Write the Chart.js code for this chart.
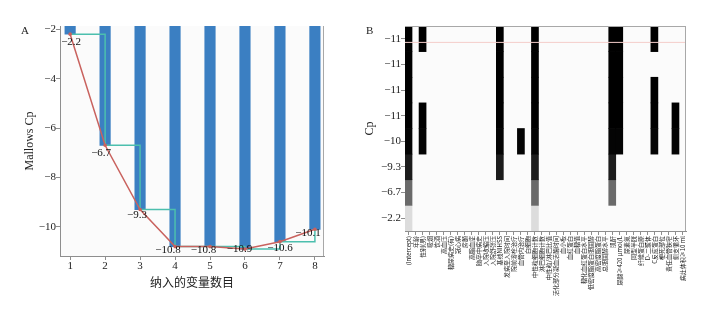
<!DOCTYPE html>
<html>
<head>
<meta charset="utf-8">
<script src="https://cdn.jsdelivr.net/npm/chart.js@4.4.1/dist/chart.umd.min.js"></script>
<style>
  html, body { margin: 0; padding: 0; background: #fff; }
  #wrap { position: relative; width: 719px; height: 313px; }
  #a { position: absolute; left: 0; top: 0; }
  #b { position: absolute; left: 345px; top: 0; }
  .tag { position: absolute; top: 24px; font: 11px 'Liberation Serif', serif; color: #222; }
</style>
</head>
<body>
<div id="wrap">
  <canvas id="a" width="345" height="313"></canvas>
  <canvas id="b" width="374" height="313"></canvas>
  <div class="tag" style="left:21px">A</div>
  <div class="tag" style="left:366px">B</div>
</div>
<script>
// panel A: best Cp for each model size
const nVars = [1, 2, 3, 4, 5, 6, 7, 8]
const cp = [-2.2, -6.7, -9.3, -10.8, -10.8, -10.9, -10.6, -10.1]
const yTicksA = [-10, -8, -6, -4, -2]

// panel B: candidate variables and the variables kept in each row (top row = lowest Cp)
const varNames = [
  '(Intercept)', '年龄', '性别(男)', '吸烟', '饮酒', '高血压', '糖尿病史(有)', '冠心病',
  '房颤', '高脂血症', '脑卒中病史', '入院收缩压', '入院舒张压', '基线NIHSS', '发病至入院时间',
  '院前溶栓治疗', '血管内治疗', '白细胞', '中性粒细胞计数', '淋巴细胞计数', '中性粒/淋巴比值',
  '活化部分凝血活酶时间', '血小板', '血红蛋白', '血糖值', '糖化血红蛋白水平', '低密度脂蛋白胆固醇',
  '高密度脂蛋白', '总胆固醇水平', '肌酐', '尿酸≥420 μmol/L', '尿素氮', '同型半胱', '纤维蛋白原',
  'D-二聚体', 'C反应蛋白', '梗死部位', '责任血管狭窄', '侧支循环', '病灶体积≥10 ml',
]
const rowSizes = [6, 4, 5, 7, 8, 3, 2, 1]
const rowVars = [
  [0, 2, 13, 18, 29, 30, 35],
  [0, 13, 18, 29, 30],
  [0, 13, 18, 29, 30, 35],
  [0, 2, 13, 18, 29, 30, 35, 38],
  [0, 2, 13, 16, 18, 29, 30, 35, 38],
  [0, 13, 18, 29],
  [0, 18, 29],
  [0, 18],
]
const rowCp = rowSizes.map((s) => cp[s - 1])

const serif = "'Liberation Serif', 'Times New Roman', serif"
const cjk = "'Noto Sans CJK SC', sans-serif"
const axisCol = '#8e8e8e'
const rowShades = ['#000', '#000', '#000', '#000', '#040404', '#1c1c1c', '#6a6a6a', '#dcdcdc']
const labelNudge = [[1, 8], [-4, 8], [-3, 6], [-7, 3], [-6.5, 3], [-5.5, 0], [0, 6], [-7, 4]]
const refRow = 0.64

const fmt = (v) => String(v).replace('-', '\u2212')

const plotBox = (sides) => ({
  id: 'plotBox',
  beforeDraw(chart) {
    const { ctx, chartArea: a } = chart
    ctx.save()
    ctx.fillStyle = '#fbfbfb'
    ctx.fillRect(a.left, a.top, a.right - a.left, a.bottom - a.top)
    ctx.restore()
  },
  afterDraw(chart) {
    const { ctx, chartArea: a } = chart
    ctx.save()
    ctx.strokeStyle = '#a8a8a8'
    ctx.lineWidth = 1
    ctx.beginPath()
    if (sides.includes('top')) { ctx.moveTo(a.left, a.top + 0.5); ctx.lineTo(a.right, a.top + 0.5) }
    if (sides.includes('right')) { ctx.moveTo(a.right - 0.5, a.top); ctx.lineTo(a.right - 0.5, a.bottom) }
    ctx.stroke()
    ctx.restore()
  },
})

const pointLabels = {
  id: 'pointLabels',
  afterDatasetsDraw(chart) {
    const { ctx, scales: { x, y } } = chart
    ctx.save()
    ctx.font = '11px ' + serif
    ctx.fillStyle = '#111'
    ctx.textAlign = 'center'
    ctx.textBaseline = 'middle'
    nVars.forEach((n, i) => {
      const [dx, dy] = labelNudge[i]
      ctx.fillText(fmt(cp[i]), x.getPixelForValue(n) + dx, y.getPixelForValue(cp[i]) + dy)
    })
    ctx.restore()
  },
}

const refLine = {
  id: 'refLine',
  afterDatasetsDraw(chart) {
    const { ctx, chartArea: a, scales: { y } } = chart
    const py = y.getPixelForValue(refRow)
    ctx.save()
    ctx.strokeStyle = '#f4cdca'
    ctx.lineWidth = 1
    ctx.beginPath()
    ctx.moveTo(a.left, py)
    ctx.lineTo(a.right, py)
    ctx.stroke()
    ctx.restore()
  },
}

const tickGrid = { display: true, drawOnChartArea: false, drawTicks: true, tickLength: 4, color: axisCol, offset: false }
const axisBorder = { display: true, color: axisCol, width: 1 }

const points = nVars.map((n, i) => ({ x: n, y: cp[i] }))
const yMaxA = -1.87

new Chart(document.getElementById('a'), {
  type: 'bar',
  data: {
    datasets: [
      {
        type: 'line',
        label: 'Cp',
        data: points,
        borderColor: '#c9625e',
        backgroundColor: '#c9625e',
        borderWidth: 1.5,
        pointRadius: 1.8,
        pointBorderWidth: 0,
        order: 0,
      },
      {
        type: 'line',
        label: 'step',
        data: points,
        stepped: true,
        borderColor: '#4cbfae',
        borderWidth: 1.5,
        pointRadius: 0,
        order: 1,
      },
      {
        type: 'bar',
        label: 'bars',
        data: points,
        base: yMaxA,
        backgroundColor: '#3b7fc2',
        barThickness: 10.5,
        order: 2,
      },
    ],
  },
  options: {
    responsive: false,
    animation: false,
    layout: { padding: { left: 0, right: 21, top: 26, bottom: 17 } },
    plugins: { legend: { display: false }, tooltip: { enabled: false } },
    scales: {
      x: {
        type: 'linear',
        min: 0.71,
        max: 8.26,
        offset: false,
        afterBuildTicks: (s) => { s.ticks = nVars.map((v) => ({ value: v })) },
        afterFit: (s) => { s.height = 40 },
        ticks: { font: { family: serif, size: 11 }, color: '#222', padding: 0 },
        grid: tickGrid,
        border: axisBorder,
        title: {
          display: true,
          text: '纳入的变量数目',
          font: { family: cjk, size: 12 },
          color: '#222',
          padding: { top: 0, bottom: 6 },
        },
      },
      y: {
        type: 'linear',
        min: -11.18,
        max: yMaxA,
        afterBuildTicks: (s) => { s.ticks = yTicksA.map((v) => ({ value: v })) },
        afterFit: (s) => { s.width = 60 },
        ticks: { font: { family: serif, size: 11 }, color: '#222', padding: 0, callback: (v) => fmt(v) },
        grid: tickGrid,
        border: axisBorder,
        title: {
          display: true,
          text: 'Mallows Cp',
          font: { family: serif, size: 12 },
          color: '#222',
          padding: { top: 23, bottom: 0 },
        },
      },
    },
  },
  plugins: [plotBox(['right']), pointLabels],
})

new Chart(document.getElementById('b'), {
  type: 'bar',
  data: {
    labels: varNames,
    datasets: rowVars.map((vars, r) => ({
      label: fmt(Number(rowCp[r].toPrecision(2))),
      data: varNames.map((_, c) => (vars.includes(c) ? [r, r + 1] : null)),
      backgroundColor: rowShades[r],
      grouped: false,
      categoryPercentage: 1,
      barPercentage: 1,
      borderWidth: 0,
    })),
  },
  options: {
    responsive: false,
    animation: false,
    layout: { padding: { left: 0, right: 33, top: 26, bottom: 0 } },
    plugins: { legend: { display: false }, tooltip: { enabled: false } },
    scales: {
      x: {
        afterFit: (s) => { s.height = 82 },
        ticks: {
          autoSkip: false,
          minRotation: 90,
          maxRotation: 90,
          font: { family: cjk, size: 6 },
          color: '#222',
          padding: 1,
        },
        grid: tickGrid,
        border: axisBorder,
      },
      y: {
        type: 'linear',
        min: 0,
        max: rowSizes.length,
        reverse: true,
        afterBuildTicks: (s) => { s.ticks = rowSizes.map((_, r) => ({ value: r + 0.5 })) },
        afterFit: (s) => { s.width = 60 },
        ticks: {
          font: { family: serif, size: 11 },
          color: '#222',
          padding: 0,
          callback: (v) => fmt(Number(rowCp[Math.floor(v)].toPrecision(2))),
        },
        grid: tickGrid,
        border: axisBorder,
        title: {
          display: true,
          text: 'Cp',
          font: { family: serif, size: 12 },
          color: '#222',
          padding: { top: 18, bottom: 0 },
        },
      },
    },
  },
  plugins: [plotBox(['top', 'right']), refLine],
})
</script>
</body>
</html>
